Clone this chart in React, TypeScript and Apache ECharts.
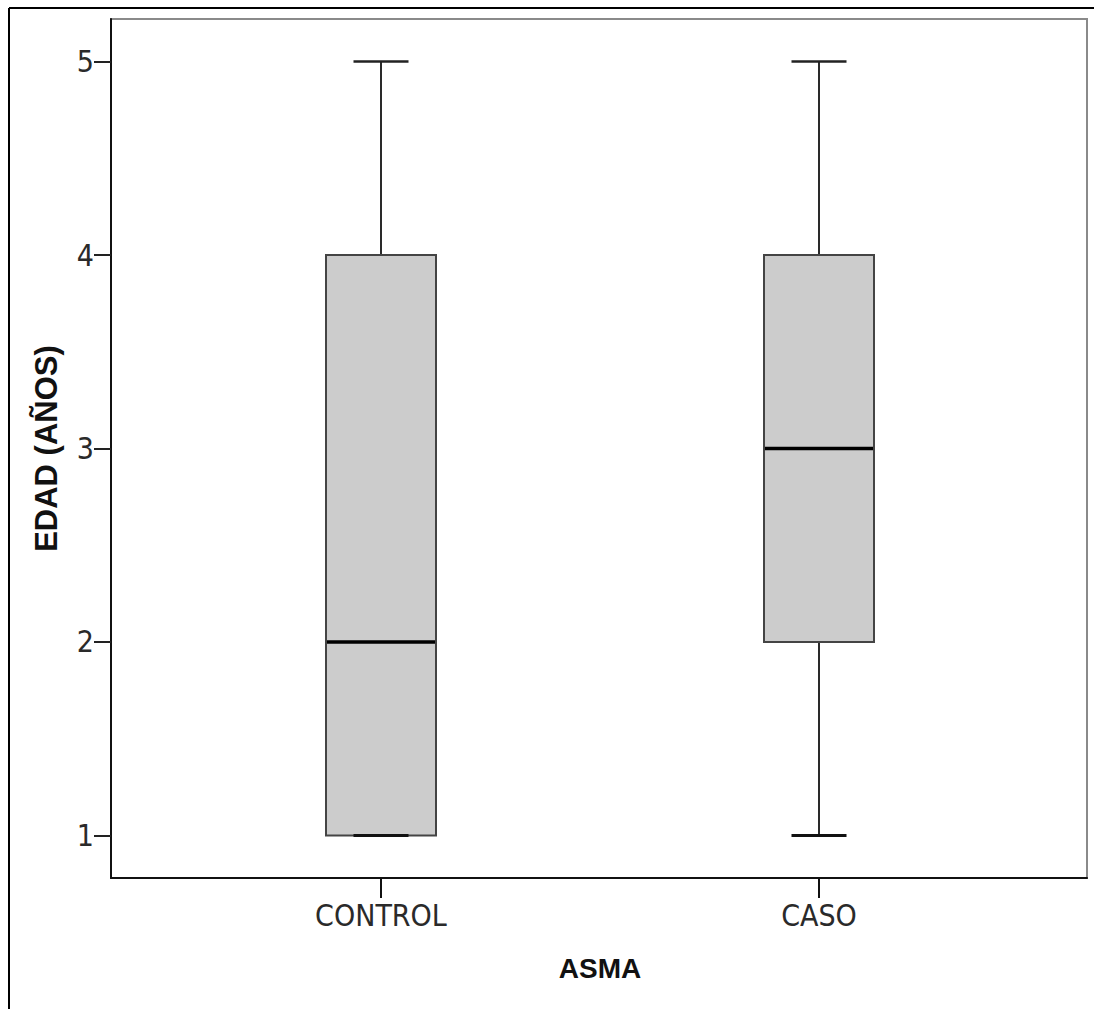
import React, { useEffect, useRef } from "react";
import * as echarts from "echarts";

// Age (years) by asthma group: five-number summaries per group
const categories = ["CONTROL", "CASO"];
const minValues = [1, 1];
const q1Values = [1, 2];
const medianValues = [2, 3];
const q3Values = [4, 4];
const maxValues = [5, 5];
const yTickValues = [1, 2, 3, 4, 5];

const Y_MIN = 0.78;
const Y_MAX = 5.22;
const BOX_WIDTH = 110;
const CAP_WIDTH = 55;

const narrowFont = "'Liberation Sans Narrow', 'Arial Narrow', 'DejaVu Sans Condensed', sans-serif";
const boldFont = "'Liberation Sans', Arial, sans-serif";

export default function App() {
  const ref = useRef<HTMLDivElement>(null);

  useEffect(() => {
    if (!ref.current) return;
    const chart = echarts.init(ref.current, undefined, { renderer: "svg" });

    // [category index, min, q1, median, q3, max]
    const boxData = categories.map((_, i) => [
      i,
      minValues[i],
      q1Values[i],
      medianValues[i],
      q3Values[i],
      maxValues[i],
    ]);

    chart.setOption({
      animation: false,
      backgroundColor: "#ffffff",
      grid: [
        // plot frame
        { left: 111, right: 7, top: 19, bottom: 131, show: true, borderColor: "#8a8a8a", borderWidth: 2, backgroundColor: "transparent" },
        // data area, aligned so the category centres sit where the groups are drawn
        { left: 162, right: 56, top: 19, bottom: 131 },
      ],
      xAxis: [
        {
          type: "value",
          gridIndex: 0,
          min: 0,
          max: 1,
          axisLine: { show: true, lineStyle: { color: "#111", width: 2 } },
          axisTick: { show: false },
          axisLabel: { show: false },
          splitLine: { show: false },
        },
        {
          type: "category",
          gridIndex: 1,
          data: categories,
          boundaryGap: true,
          axisLine: { show: false },
          axisTick: { show: true, alignWithLabel: true, length: 20, lineStyle: { color: "#111", width: 2 } },
          axisLabel: { fontSize: 30, fontFamily: narrowFont, color: "#2a2a2a", margin: 22 },
          splitLine: { show: false },
          name: "ASMA",
          nameLocation: "middle",
          nameGap: 76,
          nameTextStyle: { fontSize: 28, fontWeight: "bold", fontFamily: boldFont, color: "#111" },
        },
      ],
      yAxis: [
        {
          type: "value",
          gridIndex: 0,
          min: Y_MIN,
          max: Y_MAX,
          axisLine: { show: true, lineStyle: { color: "#111", width: 2 } },
          axisTick: { show: true, customValues: yTickValues, length: 17, inside: false, lineStyle: { color: "#222", width: 2 } },
          axisLabel: { customValues: yTickValues, fontSize: 30, fontFamily: narrowFont, color: "#2a2a2a", margin: 17 },
          splitLine: { show: false },
          name: "EDAD (AÑOS)",
          nameLocation: "middle",
          nameGap: 49,
          nameRotate: 90,
          nameTextStyle: { fontSize: 31, fontWeight: "bold", fontFamily: boldFont, color: "#111" },
        },
        {
          type: "value",
          gridIndex: 1,
          min: Y_MIN,
          max: Y_MAX,
          show: false,
        },
      ],
      series: [
        {
          // box, whiskers with short caps, and a heavy median line
          type: "custom",
          xAxisIndex: 1,
          yAxisIndex: 1,
          data: boxData,
          encode: { x: 0, y: [1, 2, 3, 4, 5] },
          renderItem: (params: any, api: any) => {
            const cat = api.value(0);
            const pMin = api.coord([cat, api.value(1)]);
            const pQ1 = api.coord([cat, api.value(2)]);
            const pMed = api.coord([cat, api.value(3)]);
            const pQ3 = api.coord([cat, api.value(4)]);
            const pMax = api.coord([cat, api.value(5)]);
            const cx = pMed[0];
            const hb = BOX_WIDTH / 2;
            const hc = CAP_WIDTH / 2;
            const whisker = { stroke: "#2a2a2a", lineWidth: 2 };
            return {
              type: "group",
              children: [
                {
                  type: "line",
                  shape: { x1: cx, y1: pMax[1], x2: cx, y2: pQ3[1] },
                  style: whisker,
                },
                {
                  type: "line",
                  shape: { x1: cx, y1: pQ1[1], x2: cx, y2: pMin[1] },
                  style: whisker,
                },
                {
                  type: "rect",
                  shape: { x: cx - hb, y: pQ3[1], width: BOX_WIDTH, height: pQ1[1] - pQ3[1] },
                  style: { fill: "#cccccc", stroke: "#444444", lineWidth: 2 },
                },
                {
                  type: "line",
                  shape: { x1: cx - hb + 1, y1: pMed[1], x2: cx + hb - 1, y2: pMed[1] },
                  style: { stroke: "#000", lineWidth: 3.5 },
                },
                {
                  type: "line",
                  shape: { x1: cx - hc, y1: pMin[1], x2: cx + hc, y2: pMin[1] },
                  style: { stroke: "#111", lineWidth: 3 },
                },
                {
                  type: "line",
                  shape: { x1: cx - hc, y1: pMax[1], x2: cx + hc, y2: pMax[1] },
                  style: { stroke: "#222", lineWidth: 2.5 },
                },
              ],
            };
          },
        },
      ],
      graphic: [
        { type: "line", shape: { x1: 9, y1: 8, x2: 1094, y2: 8 }, style: { stroke: "#000", lineWidth: 2 } },
        { type: "line", shape: { x1: 9, y1: 8, x2: 9, y2: 1009 }, style: { stroke: "#000", lineWidth: 2 } },
      ],
    });

    return () => chart.dispose();
  }, []);

  return (
    <div
      ref={ref}
      style={{ position: "absolute", left: 0, top: 0, width: 1094, height: 1009, background: "#fff" }}
    />
  );
}
